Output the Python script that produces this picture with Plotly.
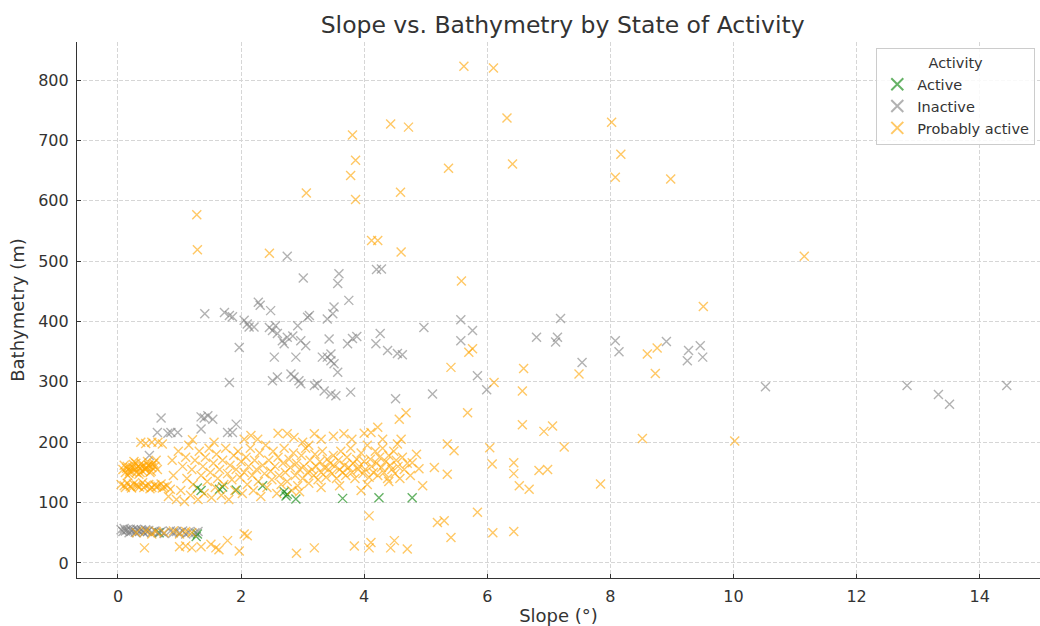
import plotly.graph_objects as go

# ---------------- data ----------------
active_slope = [1.29, 1.35, 1.65, 1.70, 1.92, 2.35, 2.70, 2.73, 2.75, 2.89, 3.65, 4.24, 4.78, 0.67, 1.29, 1.27]
active_bathy = [124, 120, 122, 126, 121, 128, 118, 111, 114, 106, 107, 108, 108, 50, 48, 44]

inactive_slope = [
    2.75, 3.01, 3.59, 3.57, 1.41, 1.73, 1.81, 1.86, 2.05, 2.10, 2.13, 2.21, 2.28, 2.31, 2.48, 1.97,
    1.81, 2.54, 2.46, 2.51, 2.56, 2.59, 2.67, 2.70, 2.75, 2.84, 2.92, 2.89, 3.08, 3.11, 2.97, 3.05,
    2.51, 2.59, 2.81, 2.86, 2.97, 2.94, 3.19, 3.32, 3.40, 3.46, 3.51, 3.46, 3.51, 3.49, 3.40, 3.57,
    3.35, 3.46, 3.54, 3.75, 3.73, 3.24, 3.43, 3.81, 3.88, 4.20, 4.28, 4.97, 5.57, 5.76, 5.57, 5.84,
    5.99, 6.80, 7.14, 7.11, 7.19, 7.54, 4.26, 4.19, 4.38, 4.54, 4.62, 3.78, 4.51, 5.11, 8.08, 8.14,
    8.91, 9.27, 9.25, 9.50, 9.46, 10.52, 12.82, 13.33, 13.51, 14.44,
    0.70, 1.35, 1.40, 1.46, 1.54, 1.92, 1.78, 1.86, 0.64, 0.81, 0.86, 0.97, 1.35, 0.51,
    0.05, 0.08, 0.10, 0.12, 0.15, 0.18, 0.20, 0.22, 0.25, 0.28, 0.30, 0.32, 0.35, 0.38, 0.40, 0.42,
    0.45, 0.48, 0.50, 0.55, 0.60, 0.65, 0.70, 0.75, 0.85, 0.90, 0.95, 1.00, 1.05, 1.10, 1.15, 1.25, 1.30,
]
inactive_bathy = [
    508, 472, 479, 463, 413, 415, 410, 408, 402, 396, 391, 391, 432, 427, 418, 357,
    299, 341, 390, 385, 393, 380, 368, 363, 374, 376, 393, 341, 407, 410, 368, 360,
    302, 308, 313, 308, 297, 302, 294, 341, 341, 335, 330, 346, 424, 413, 404, 316,
    285, 280, 277, 435, 363, 297, 371, 372, 375, 486, 487, 390, 403, 385, 368, 310,
    287, 374, 374, 366, 405, 332, 380, 363, 352, 347, 345, 283, 272, 280, 368, 350,
    367, 352, 335, 341, 360, 292, 294, 279, 263, 294,
    240, 242, 240, 244, 238, 230, 216, 216, 216, 215, 216, 216, 222, 178,
    55, 52, 57, 53, 55, 50, 56, 53, 55, 51, 56, 54, 52, 55, 53, 50,
    55, 52, 54, 51, 53, 50, 52, 49, 53, 50, 52, 50, 53, 48, 51, 50, 52,
]

prob_slope = [
    # scattered high / right
    1.28, 1.29, 2.46, 3.06, 3.78, 3.81, 3.86, 3.86, 4.12, 4.22, 4.43, 4.59, 4.60, 4.72, 5.37, 5.62,
    5.58, 6.10, 6.32, 6.41, 8.02, 8.17, 8.08, 8.98, 11.15, 9.51, 8.52, 10.02, 7.84, 8.60, 8.76, 8.73,
    5.70, 5.76, 5.41, 6.59, 6.57, 7.49, 6.11, 5.68, 4.57, 4.68, 5.84, 6.57, 6.92, 7.06, 6.04, 7.25,
    6.08, 6.43, 6.43, 6.84, 6.98, 6.52, 6.68, 6.09, 6.43, 5.35, 5.46, 5.14, 5.35, 4.95, 4.78, 4.89,
    5.19, 5.30, 5.41, 4.08,
    # low
    0.43, 1.00, 1.10, 1.20, 1.35, 1.51, 1.59, 1.78, 1.97, 2.05, 2.10, 2.90, 3.19, 3.84, 4.08, 4.11,
    4.43, 4.49, 4.70, 1.64,
    0.30, 0.45, 0.55, 0.62, 0.75, 0.90, 1.00, 1.10, 1.20,
    # ~200 band
    0.37, 0.45, 0.55, 0.65, 0.72, 1.21, 1.56, 2.05, 2.16, 2.27, 2.75, 2.86, 3.19, 3.67, 4.11, 4.22, 4.54,
    3.00, 3.30, 3.50, 3.80, 4.00, 4.30, 4.60, 3.10, 2.60,
    # dense blob near origin
    0.08, 0.12, 0.15, 0.18, 0.20, 0.22, 0.25, 0.28, 0.30, 0.33, 0.35, 0.38, 0.40, 0.42, 0.45, 0.48,
    0.50, 0.52, 0.55, 0.58, 0.60, 0.62, 0.10, 0.14, 0.19, 0.24, 0.29, 0.34, 0.39, 0.44, 0.49, 0.54,
    0.16, 0.26, 0.36, 0.46, 0.56, 0.64,
    # ~130 band
    0.05, 0.10, 0.15, 0.20, 0.25, 0.30, 0.35, 0.40, 0.45, 0.50, 0.55, 0.60, 0.65, 0.70, 0.75, 0.80,
    0.12, 0.22, 0.32, 0.42, 0.52, 0.62, 0.72, 0.85,
    # main cloud
    0.82, 0.88, 0.90, 0.95, 0.98, 1.02, 1.05, 1.08, 1.10, 1.12, 1.15, 1.18, 1.20, 1.22, 1.25, 1.30,
    1.32, 1.35, 1.38, 1.40, 1.42, 1.45, 1.48, 1.50, 1.52, 1.55, 1.58, 1.60, 1.62, 1.65, 1.68, 1.70,
    1.72, 1.75, 1.78, 1.80, 1.82, 1.85, 1.88, 1.90, 1.92, 1.95, 1.98, 2.00, 2.02, 2.05, 2.08, 2.10,
    2.12, 2.15, 2.18, 2.20, 2.22, 2.25, 2.28, 2.30, 2.32, 2.35, 2.38, 2.40, 2.42, 2.45, 2.48, 2.50,
    2.52, 2.55, 2.58, 2.60, 2.62, 2.65, 2.68, 2.70, 2.72, 2.75, 2.78, 2.80, 2.82, 2.85, 2.88, 2.90,
    2.92, 2.95, 2.98, 3.00, 3.02, 3.05, 3.08, 3.10, 3.12, 3.15, 3.18, 3.20, 3.22, 3.25, 3.28, 3.30,
    3.32, 3.35, 3.38, 3.40, 3.42, 3.45, 3.48, 3.50, 3.52, 3.55, 3.58, 3.60, 3.62, 3.65, 3.68, 3.70,
    3.72, 3.75, 3.78, 3.80, 3.82, 3.85, 3.88, 3.90, 3.92, 3.95, 3.98, 4.00, 4.02, 4.05, 4.08, 4.10,
    4.12, 4.15, 4.18, 4.20, 4.22, 4.25, 4.28, 4.30, 4.32, 4.35, 4.38, 4.40, 4.42, 4.45, 4.48, 4.50,
    4.52, 4.55, 4.58, 4.62, 4.65, 4.70, 4.75, 4.85, 3.95, 4.05, 3.30, 2.95, 3.60, 4.40,
]
prob_bathy = [
    577, 519, 513, 613, 642, 709, 667, 602, 534, 534, 727, 614, 515, 722, 654, 823,
    467, 820, 737, 661, 730, 677, 639, 636, 508, 425, 206, 202, 131, 346, 356, 314,
    349, 355, 324, 322, 285, 313, 299, 249, 238, 249, 84, 229, 218, 227, 191, 192,
    164, 166, 148, 153, 155, 128, 122, 50, 52, 197, 186, 158, 147, 128, 166, 156,
    67, 70, 42, 78,
    25, 27, 28, 25, 27, 31, 25, 37, 20, 48, 45, 16, 25, 28, 25, 34,
    25, 37, 23, 22,
    50, 53, 48, 52, 50, 53, 48, 52, 50,
    200, 198, 200, 200, 197, 204, 200, 205, 211, 205, 214, 208, 214, 214, 216, 225, 197,
    200, 205, 210, 205, 215, 205, 205, 195, 215,
    155, 150, 160, 148, 158, 152, 163, 155, 150, 160, 157, 165, 152, 160, 155, 168,
    162, 150, 158, 165, 160, 170, 162, 157, 152, 158, 165, 147, 160, 155, 162, 152,
    145, 168, 150, 158, 163, 155,
    130, 128, 132, 127, 131, 129, 126, 133, 128, 130, 125, 129, 127, 131, 126, 128,
    125, 124, 127, 125, 123, 126, 124, 122,
    110, 170, 145, 105, 185, 120, 160, 102, 175, 140, 195, 112, 155, 130, 170, 105,
    185, 145, 160, 115, 175, 135, 190, 150, 108, 165, 125, 180, 140, 155, 112, 170,
    130, 190, 148, 105, 162, 138, 178, 120, 155, 185, 142, 168, 115, 150, 175, 130,
    160, 190, 145, 120, 170, 155, 135, 182, 110, 162, 148, 195, 125, 170, 152, 138,
    185, 160, 115, 175, 145, 130, 165, 190, 150, 135, 172, 158, 120, 182, 145, 165,
    128, 155, 178, 140, 160, 190, 150, 132, 170, 155, 145, 180, 160, 138, 168, 150,
    185, 158, 142, 172, 155, 165, 148, 178, 160, 140, 170, 155, 185, 150, 162, 145,
    175, 158, 190, 150, 165, 140, 172, 155, 160, 182, 148, 168, 155, 195, 142, 172,
    160, 150, 185, 165, 145, 175, 158, 190, 150, 168, 140, 178, 162, 155, 185, 148,
    170, 160, 140, 175, 155, 165, 145, 180, 120, 130, 125, 118, 128, 135,
]

series = [
    ("Active", active_slope, active_bathy, "#008000"),
    ("Inactive", inactive_slope, inactive_bathy, "#808080"),
    ("Probably active", prob_slope, prob_bathy, "#FFA500"),
]

# ---------------- figure ----------------
fig = go.Figure()
for name, xs, ys, col in series:
    fig.add_trace(go.Scatter(
        x=xs, y=ys, mode="markers", name=name,
        marker=dict(symbol="x-thin", size=9, color=col, opacity=0.6,
                    line=dict(width=1.4, color=col)),
    ))

font_family = "DejaVu Sans"
text_col = "#333333"
fig.update_layout(
    width=1040, height=626,
    margin=dict(l=77, r=0, t=42, b=48),
    paper_bgcolor="white", plot_bgcolor="white",
    font=dict(family=font_family, size=16, color=text_col),
    title=dict(text="Slope vs. Bathymetry by State of Activity", x=0.541, xanchor="center",
               y=0.961, yanchor="middle", font=dict(size=23.5, color=text_col)),
    legend=dict(
        title=dict(text="Activity", side="top center", font=dict(size=14.5)),
        x=0.83, y=0.988, xanchor="left", yanchor="top",
        bgcolor="rgba(255,255,255,0.85)", bordercolor="#cccccc", borderwidth=1,
        font=dict(size=14.5), itemsizing="constant", tracegroupgap=0,
    ),
    showlegend=True,
)
fig.update_xaxes(
    range=[-0.666, 14.98], tickvals=[0, 2, 4, 6, 8, 10, 12, 14],
    tickfont=dict(size=16),
    title=dict(text="Slope (°)", font=dict(size=18), standoff=4),
    showgrid=True, gridcolor="#d6d6d6", griddash="4px,2px", gridwidth=1,
    showline=True, linecolor="#333333", linewidth=1.2,
    ticks="inside", ticklen=4, tickcolor="#333333", zeroline=False,
    ticklabelstandoff=4,
)
fig.update_yaxes(
    range=[-24.9, 863], tickvals=[0, 100, 200, 300, 400, 500, 600, 700, 800],
    tickfont=dict(size=16),
    title=dict(text="Bathymetry (m)", font=dict(size=18), standoff=8),
    showgrid=True, gridcolor="#d6d6d6", griddash="4px,2px", gridwidth=1,
    showline=True, linecolor="#333333", linewidth=1.2,
    ticks="inside", ticklen=4, tickcolor="#333333", zeroline=False,
    ticklabelstandoff=4,
)

fig.write_html("out.html")
